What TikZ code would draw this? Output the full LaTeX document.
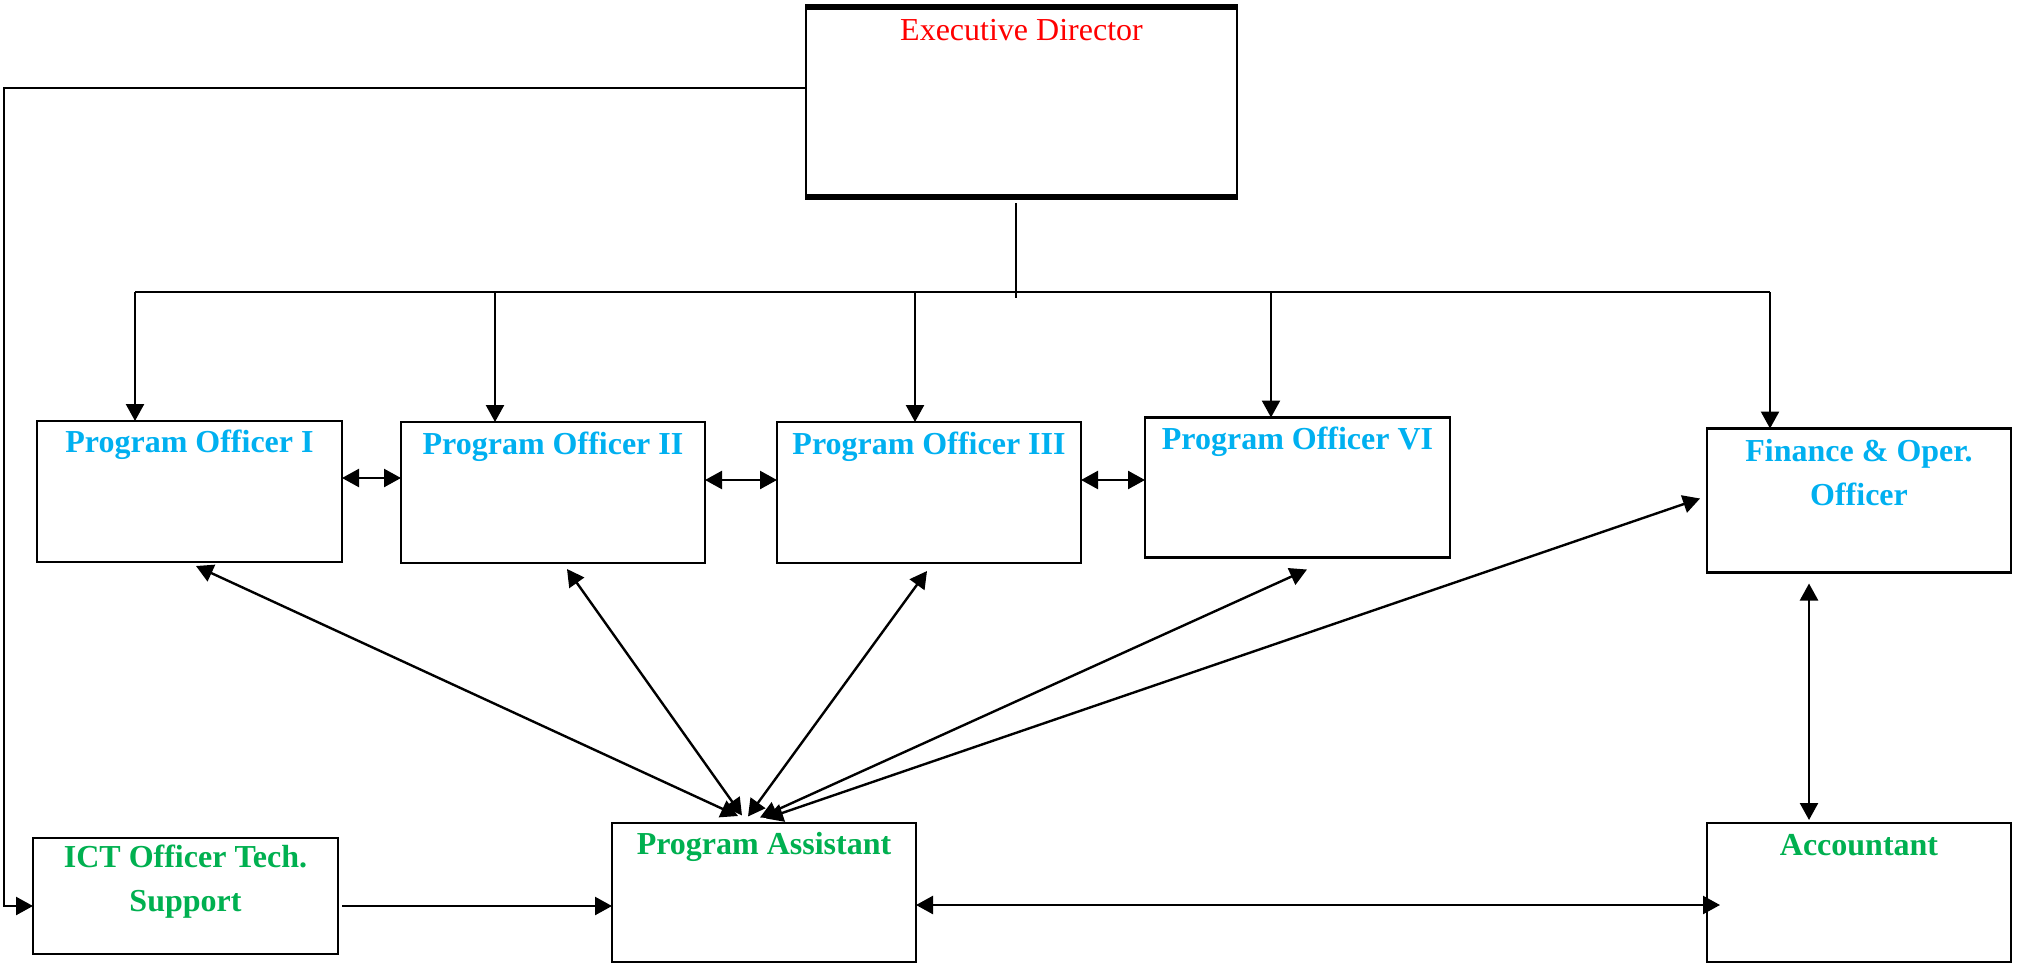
\documentclass[tikz,border=0pt]{standalone}
\usepackage{fontspec}
\setmainfont{Liberation Serif}
\usetikzlibrary{arrows.meta,calc}
\definecolor{poblue}{HTML}{00B0F0}
\definecolor{pagreen}{HTML}{00B050}
\begin{document}
\begin{tikzpicture}[x=0.5pt,y=-0.5pt,
  box/.style={draw, line width=1.1pt, inner sep=0pt, outer sep=0pt},
  ttl/.style={font=\fontsize{16}{22}\selectfont\bfseries, align=center, inner sep=0pt},
  ln/.style={line width=1.2pt},
  arr/.style={line width=1.2pt, -{Triangle[length=8.5pt,width=9pt]}},
  darr/.style={line width=1.2pt, {Triangle[length=8.5pt,width=9pt]}-{Triangle[length=8.5pt,width=9pt]}}
]
\fill[white] (0,0) rectangle (2017,963);
\useasboundingbox (0,0) rectangle (2017,963);

% boxes
\node[box, minimum width=215.5pt, minimum height=95pt] (ed) at (1021.5,102) {};
\draw[line width=2.75pt] ($(ed.north west)+(-1,0)$) -- ($(ed.north east)+(1,0)$);
\draw[line width=2.75pt] ($(ed.south west)+(-1,0)$) -- ($(ed.south east)+(1,0)$);
\node[box, minimum width=152.5pt, minimum height=70.5pt] (po1) at (189.5,491.5) {};
\node[box, minimum width=152pt, minimum height=70.5pt] (po2) at (553,492.5) {};
\node[box, minimum width=152pt, minimum height=70.5pt] (po3) at (929,492.5) {};
\node[box, minimum width=152.5pt, minimum height=70pt] (po6) at (1297.5,487.5) {};
\node[box, minimum width=152pt, minimum height=72pt] (fin) at (1859,500.5) {};
\node[box, minimum width=152.5pt, minimum height=58pt] (ict) at (185.5,896) {};
\node[box, minimum width=152pt, minimum height=69.5pt] (pa) at (764,892.5) {};
\node[box, minimum width=152pt, minimum height=69.5pt] (acc) at (1859,892.5) {};

% texts
\node[font=\fontsize{16}{22}\selectfont, text=red, inner sep=0pt] (ted) at (1021.5,30) {Executive Director};
\node[ttl, text=poblue] (tpo1) at (189.5,445) {Program Officer I};
\node[ttl, text=poblue] (tpo2) at (553,447) {Program Officer II};
\node[ttl, text=poblue] (tpo3) at (929,447) {Program Officer III};
\node[ttl, text=poblue] (tpo6) at (1297.5,442) {Program Officer VI};
\node[ttl, text=poblue] (tfin) at (1859,473) {Finance \& Oper.\\Officer};
\node[ttl, text=pagreen] (tict) at (185.5,882) {ICT Officer Tech.\\Support};
\node[ttl, text=pagreen] (tpa) at (764,847) {Program Assistant};
\node[ttl, text=pagreen] (tacc) at (1859,845) {Accountant};

% bus
\coordinate (hub) at (1016,292);
\coordinate (b1) at (135,292);
\coordinate (b2) at (495,292);
\coordinate (b3) at (915,292);
\coordinate (b4) at (1271,292);
\coordinate (b5) at (1770,292);
\draw[ln] ($(ed.south -| hub)+(0,6)$) -- ($(hub)+(0,6)$);
\draw[ln] (b1) -- (b5);
\draw[arr] (b1) -- (b1 |- po1.north);
\draw[arr] (b2) -- (b2 |- po2.north);
\draw[arr] (b3) -- (b3 |- po3.north);
\draw[arr] (b4) -- (b4 |- po6.north);
\draw[arr] (b5) -- (b5 |- fin.north);

% left line from ED to ICT
\coordinate (lt) at (4,88);
\coordinate (lb) at (4,906);
\draw[arr] (ed.west |- lt) -- (lt) -- (lb) -- (lb -| ict.west);

% between program officers
\coordinate (h1) at (0,478);
\coordinate (h2) at (0,480);
\draw[darr] (po1.east |- h1) -- (po2.west |- h1);
\draw[darr] (po2.east |- h2) -- (po3.west |- h2);
\draw[darr] (po3.east |- h2) -- (po6.west |- h2);

% to program assistant
\draw[darr] ($(po1.south)+(6.5,4)$) -- ($(pa.north)+(-26,-7)$);
\draw[darr] ($(po2.south)+(14,6)$) -- ($(pa.north)+(-22,-7.5)$);
\draw[darr] ($(po3.south)+(-2,8)$) -- ($(pa.north)+(-16,-6.5)$);
\draw[darr] ($(po6.south)+(9.5,12)$) -- ($(pa.north)+(-4,-5.5)$);
\draw[darr] ($(fin.west)+(-7,-2)$) -- ($(pa.north)+(2,-4.5)$);

% finance - accountant
\coordinate (va) at (1809,0);
\draw[darr] ($(fin.south -| va)+(0,11)$) -- ($(acc.north -| va)+(0,-3)$);

% bottom row
\coordinate (hb) at (0,906);
\coordinate (hc) at (0,905);
\draw[arr] ($(ict.east |- hb)+(4,0)$) -- (pa.west |- hb);
\draw[darr] (pa.east |- hc) -- ($(acc.west |- hc)+(13,0)$);
\end{tikzpicture}
\end{document}
